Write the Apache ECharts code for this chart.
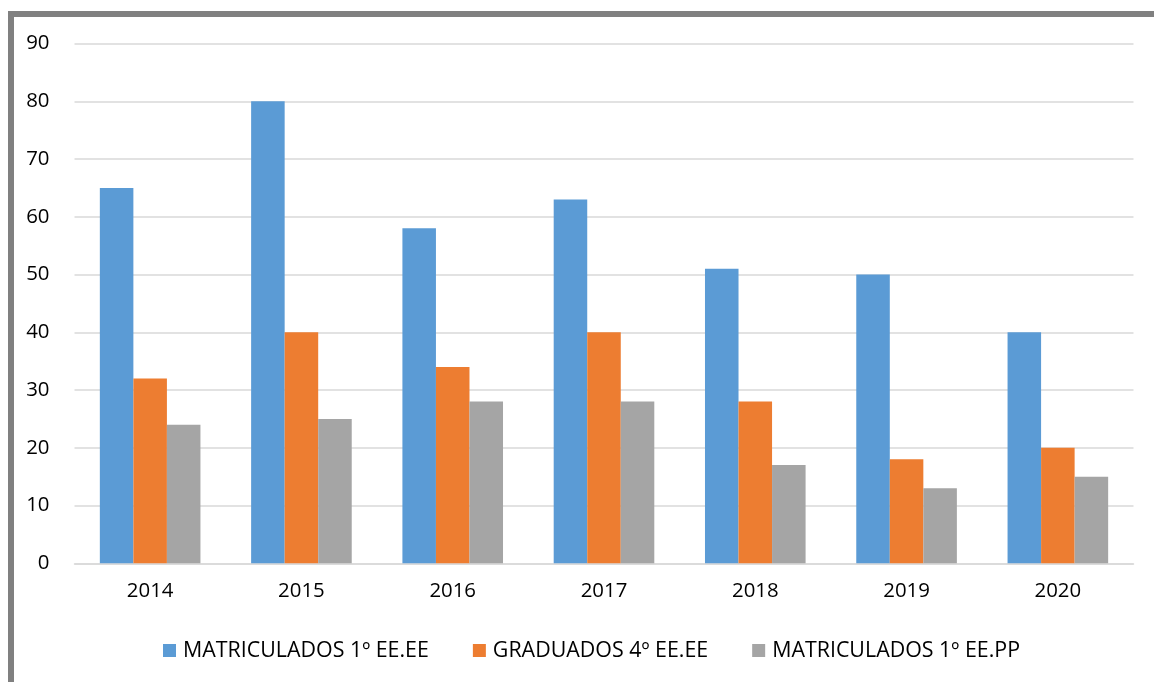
<!DOCTYPE html>
<html>
<head>
<meta charset="utf-8">
<script src="https://cdn.jsdelivr.net/npm/echarts@6/dist/echarts.min.js"></script>
<style>
html,body{margin:0;padding:0;background:#fff;}
#chart{width:1154px;height:682px;}
</style>
</head>
<body>
<div id="chart"></div>
<script>
const categories = ['2014','2015','2016','2017','2018','2019','2020'];
const matriculadosEEEE = [65, 80, 58, 63, 51, 50, 40];
const graduadosEEEE = [32, 40, 34, 40, 28, 18, 20];
const matriculadosEEPP = [24, 25, 28, 28, 17, 13, 15];
const seriesNames = ['MATRICULADOS 1º EE.EE', 'GRADUADOS 4º EE.EE', 'MATRICULADOS 1º EE.PP'];
const yTicks = [0, 10, 20, 30, 40, 50, 60, 70, 80, 90];

const FONT = '"Open Sans"';
const chart = echarts.init(document.getElementById('chart'), null, {renderer:'canvas'});
chart.setOption({
  animation: false,
  backgroundColor: '#ffffff',
  color: ['#5b9bd5', '#ed7d31', '#a5a5a5'],
  textStyle: {fontFamily: FONT},
  graphic: [
    {type:'rect', shape:{x:8, y:11, width:6, height:700}, style:{fill:'#808080'}, silent:true},
    {type:'rect', shape:{x:8, y:11, width:1200, height:6}, style:{fill:'#808080'}, silent:true}
  ],
  grid: {left: 74.5, right: 20.5, top: 43.5, bottom: 118.7, containLabel: false},
  legend: {
    data: seriesNames,
    left: 163,
    top: 640,
    padding: 0,
    itemWidth: 13,
    itemHeight: 13,
    itemGap: 44,
    icon: 'rect',
    textStyle: {fontFamily: FONT, fontSize: 21.4, color: '#000', padding: [0,0,0,2]}
  },
  xAxis: {
    type: 'category',
    data: categories,
    axisLine: {show: true, lineStyle: {color: '#d9d9d9', width: 1.5}},
    axisTick: {show: false},
    axisLabel: {fontFamily: FONT, fontSize: 20.4, color: '#000', margin: 18}
  },
  yAxis: {
    type: 'value',
    min: yTicks[0],
    max: yTicks[yTicks.length-1],
    interval: 10,
    axisLine: {show: false},
    axisTick: {show: false},
    splitLine: {lineStyle: {color: '#d9d9d9', width: 1.5}},
    axisLabel: {fontFamily: FONT, fontSize: 20.4, color: '#000', margin: 25}
  },
  series: [
    {name: seriesNames[0], type: 'bar', data: matriculadosEEEE, barGap: '0%', barCategoryGap: '33.5%'},
    {name: seriesNames[1], type: 'bar', data: graduadosEEEE, barGap: '0%', barCategoryGap: '33.5%'},
    {name: seriesNames[2], type: 'bar', data: matriculadosEEPP, barGap: '0%', barCategoryGap: '33.5%'}
  ]
});
</script>
</body>
</html>
